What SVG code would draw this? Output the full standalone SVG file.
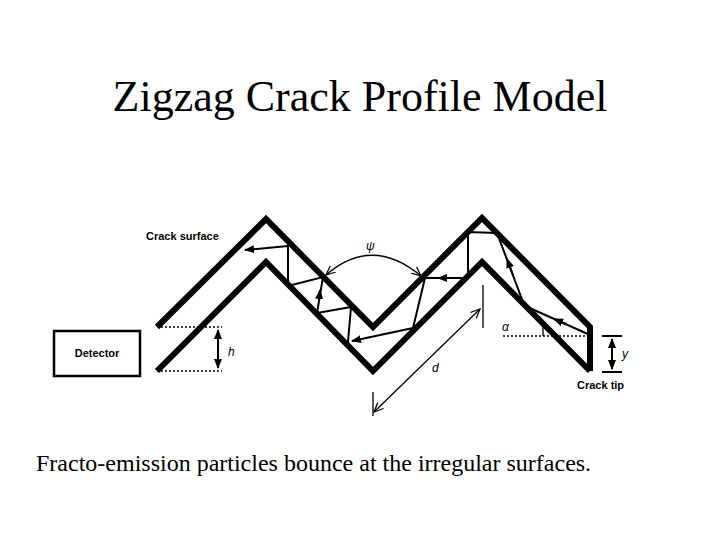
<svg xmlns="http://www.w3.org/2000/svg" width="720" height="540" viewBox="0 0 720 540">
<defs>
<style>
.wall{fill:none;stroke:#000;stroke-width:6;stroke-linejoin:miter}
.ray{fill:none;stroke:#000;stroke-width:2}
.thin{fill:none;stroke:#000;stroke-width:1.3}
.dash{fill:none;stroke:#000;stroke-width:1.3;stroke-dasharray:2 2}
.lab{font-family:"Liberation Sans",Arial,sans-serif;font-size:11px;font-weight:bold;fill:#000}
.sym{font-family:"Liberation Sans",Arial,sans-serif;font-size:12px;font-style:italic;fill:#000}
</style>
<marker id="ah" viewBox="0 0 10 10" refX="9" refY="5" markerWidth="5" markerHeight="5" orient="auto-start-reverse"><path d="M0,1L10,5L0,9z" fill="#000"/></marker>
<marker id="oa" viewBox="0 0 10 10" refX="9" refY="5" markerWidth="8" markerHeight="8" orient="auto-start-reverse"><path d="M0,1L9,5L0,9" fill="none" stroke="#000" stroke-width="1.2"/></marker>
</defs>
<rect width="720" height="540" fill="#fff"/>
<text x="360" y="111" text-anchor="middle" font-family="'Liberation Serif','Times New Roman',serif" font-size="44">Zigzag Crack Profile Model</text>
<g id="detector"><rect x="54" y="331" width="86" height="45" fill="#fff" stroke="#000" stroke-width="2.5"/><text x="97" y="357" text-anchor="middle" class="lab">Detector</text></g>
<g id="crack">
<polyline class="wall" points="157,327 266,219 373,327 482,218 590,327 590,371"/>
<polyline class="wall" points="157,371 266,262 373,371 482,262 590,371"/>
<text x="146" y="240" class="lab">Crack surface</text>
<text x="577" y="389" class="lab">Crack tip</text>
</g>
<g id="connectors">
<line class="ray" x1="288" y1="246" x2="245" y2="250" marker-end="url(#ah)" stroke-width="2.5"/>
<polyline class="ray" points="288,246 288,286 323,277 317,313 351,307 348,342"/>
<line class="ray" x1="319" y1="300" x2="320" y2="290" marker-end="url(#ah)"/>
<line class="ray" x1="413" y1="328" x2="352" y2="341" marker-end="url(#ah)" stroke-width="2.5"/>
<polyline class="ray" points="413,328 425,278 468,278 468,232 497,233 523,302"/>
<line class="ray" x1="450" y1="278" x2="438" y2="278" marker-end="url(#ah)"/>
<line class="ray" x1="513" y1="275" x2="507" y2="259" marker-end="url(#ah)"/>
<line class="ray" x1="590" y1="335" x2="523" y2="305"/>
<line class="ray" x1="566" y1="324" x2="554" y2="319" marker-end="url(#ah)"/>
<path class="thin" d="M326,275 Q372,235 421,276" marker-start="url(#oa)" marker-end="url(#oa)"/>
<text x="366" y="250" class="sym">ψ</text>
<line class="dash" x1="157" y1="327" x2="222" y2="327"/>
<line class="dash" x1="157" y1="371" x2="222" y2="371"/>
<line class="ray" x1="218" y1="330" x2="218" y2="368" marker-start="url(#ah)" marker-end="url(#ah)"/>
<text x="228" y="356" class="sym">h</text>
<line class="thin" x1="483" y1="285" x2="483" y2="328"/>
<line class="thin" x1="373" y1="392" x2="373" y2="416"/>
<line class="thin" x1="480" y1="309" x2="374" y2="412" marker-start="url(#oa)" marker-end="url(#oa)"/>
<text x="432" y="372" class="sym">d</text>
<line class="dash" x1="503" y1="336" x2="590" y2="336"/>
<line class="thin" x1="543" y1="326" x2="543" y2="336"/>
<text x="502" y="331" class="sym" font-style="normal">α</text>
<line class="ray" x1="602" y1="336" x2="622" y2="336"/>
<line class="ray" x1="602" y1="372" x2="622" y2="372"/>
<line class="ray" x1="612" y1="339" x2="612" y2="369" marker-start="url(#ah)" marker-end="url(#ah)"/>
<text x="622" y="358" class="sym">y</text>
</g>
<text x="36" y="471" font-family="'Liberation Serif','Times New Roman',serif" font-size="24">Fracto-emission particles bounce at the irregular surfaces.</text>
</svg>
